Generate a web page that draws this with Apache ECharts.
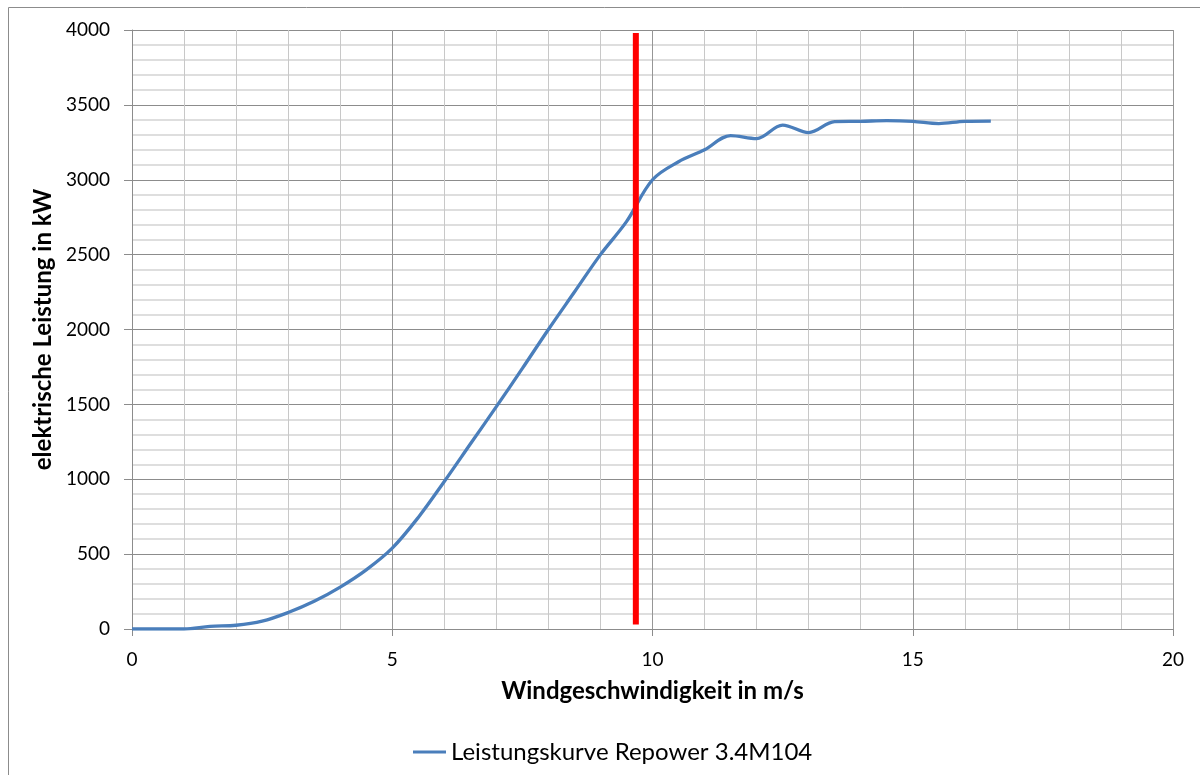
<!DOCTYPE html>
<html>
<head>
<meta charset="utf-8">
<script src="https://cdn.jsdelivr.net/npm/echarts@6/dist/echarts.min.js"></script>
<style>
  html, body { margin: 0; padding: 0; background: #fff; }
  #chart { width: 1200px; height: 775px; }
</style>
</head>
<body>
<div id="chart"></div>
<script>
// Power curve of the Repower 3.4M104 turbine: wind speed (m/s) vs. electrical power (kW)
const windSpeed = [0, 0.5, 1, 1.5, 2, 2.5, 3, 3.5, 4, 4.5, 5, 5.5, 6, 6.5, 7, 7.5, 8, 8.5, 9, 9.5,
                   10, 10.5, 11, 11.5, 12, 12.5, 13, 13.5, 14, 14.5, 15, 15.5, 16, 16.5];
const powerKW = [0, 0, 0, 18, 25, 52, 110, 185, 280, 395, 540, 745, 985, 1235, 1485, 1740, 2000, 2250, 2500, 2720,
                 3000, 3120, 3200, 3295, 3275, 3365, 3315, 3388, 3390, 3395, 3390, 3375, 3390, 3392];

// Vertical marker at 9.68 m/s
const markerSpeed = [9.68, 9.68];
const markerPower = [30, 3980];

const seriesName = 'Leistungskurve Repower 3.4M104';
const xAxisName = 'Windgeschwindigkeit in m/s';
const yAxisName = 'elektrische Leistung in kW';

const font = 'Lato, "Open Sans", sans-serif';

const chart = echarts.init(document.getElementById('chart'), null, { renderer: 'canvas' });

chart.setOption({
  backgroundColor: '#ffffff',
  animation: false,
  textStyle: { fontFamily: font },
  graphic: [{
    type: 'rect',
    shape: { x: 8.5, y: 7.5, width: 1220, height: 800 },
    style: { fill: 'none', stroke: '#8c8c8c', lineWidth: 1 },
    silent: true,
    z: -10
  }],
  grid: { left: 132, right: 27, top: 30, bottom: 146, containLabel: false },
  legend: {
    data: [seriesName],
    icon: 'rect',
    left: 408,
    top: 735,
    itemWidth: 33,
    itemHeight: 3,
    textStyle: { fontFamily: font, fontSize: 24, color: '#000' }
  },
  xAxis: {
    type: 'value',
    min: 0, max: 20, interval: 5,
    name: xAxisName,
    nameLocation: 'middle',
    nameGap: 50,
    nameTextStyle: { fontFamily: font, fontSize: 24, fontWeight: 'bold', color: '#000' },
    axisLine: { show: true, lineStyle: { color: '#8c8c8c', width: 1 } },
    axisTick: { show: true, length: 7, inside: false, lineStyle: { color: '#8c8c8c' } },
    axisLabel: { margin: 21, fontSize: 19, color: '#000', fontFamily: font },
    splitLine: { show: true, lineStyle: { color: '#969696', width: 1 } },
    minorTick: { show: false, splitNumber: 5 },
    minorSplitLine: { show: true, lineStyle: { color: '#c8c8c8', width: 1 } }
  },
  yAxis: {
    type: 'value',
    min: 0, max: 4000, interval: 500,
    name: yAxisName,
    nameLocation: 'middle',
    nameGap: 76,
    nameRotate: 90,
    nameTextStyle: { fontFamily: font, fontSize: 24, fontWeight: 'bold', color: '#000' },
    axisLine: { show: true, lineStyle: { color: '#8c8c8c', width: 1 } },
    axisTick: { show: true, length: 8, inside: false, lineStyle: { color: '#8c8c8c' } },
    axisLabel: { margin: 22, fontSize: 19, color: '#000', fontFamily: font, formatter: (v) => String(v) },
    splitLine: { show: true, lineStyle: { color: '#8c8c8c', width: 1 } },
    minorTick: { show: false, splitNumber: 5 },
    minorSplitLine: { show: true, lineStyle: { color: '#d4d4d4', width: 1.5 } }
  },
  series: [
    {
      name: seriesName,
      type: 'line',
      data: windSpeed.map((v, i) => [v, powerKW[i]]),
      smooth: 0.35,
      symbol: 'none',
      lineStyle: { color: '#4a7ebb', width: 3.3 },
      itemStyle: { color: '#4a7ebb' },
      z: 3
    },
    {
      name: 'marker',
      type: 'line',
      data: markerSpeed.map((v, i) => [v, markerPower[i]]),
      symbol: 'none',
      lineStyle: { color: '#ff0000', width: 6, cap: 'butt' },
      itemStyle: { color: '#ff0000' },
      z: 4
    }
  ]
});
</script>
</body>
</html>
